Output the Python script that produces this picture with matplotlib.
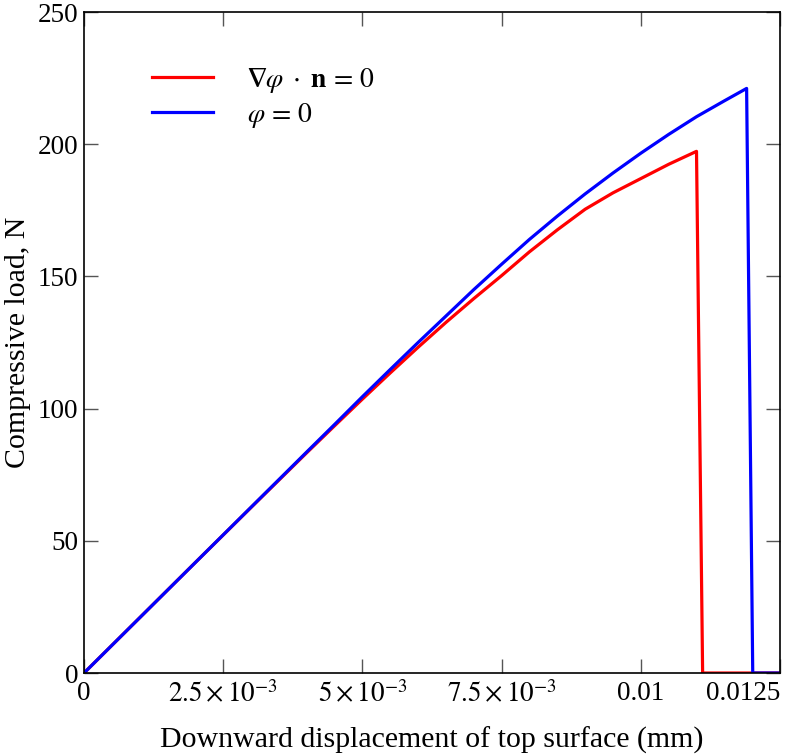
import numpy as np
import matplotlib
matplotlib.use("Agg")
import matplotlib.pyplot as plt

# Load vs displacement
disp_red = [0, 0.001, 0.002, 0.003, 0.004, 0.0045, 0.005, 0.0055, 0.006, 0.0065, 0.007,
            0.0075, 0.008, 0.0085, 0.009, 0.0095, 0.010, 0.0105, 0.0110, 0.01111, 0.0125]
load_red = [0, 20.9, 41.8, 62.6, 83.3, 93.5, 103.6, 113.5, 123.2, 132.6, 141.6,
            150.3, 159.3, 167.6, 175.4, 181.6, 187.0, 192.4, 197.3, 0, 0]

disp_blue = [0, 0.001, 0.002, 0.003, 0.004, 0.0045, 0.005, 0.0055, 0.006, 0.0065, 0.007,
             0.0075, 0.008, 0.0085, 0.009, 0.0095, 0.010, 0.0105, 0.011, 0.0115, 0.0119, 0.01201, 0.0125]
load_blue = [0, 20.9, 41.8, 62.7, 83.6, 94.0, 104.5, 114.8, 125.0, 135.0, 145.0,
             154.6, 164.0, 172.8, 181.2, 189.1, 196.6, 203.7, 210.4, 216.4, 221.1, 0, 0]

x_ticks = [0, 0.0025, 0.005, 0.0075, 0.01, 0.0125]
x_tick_labels = ["0", r"$2.5\times10^{-3}$", r"$5\times10^{-3}$", r"$7.5\times10^{-3}$", "0.01", "0.0125"]
y_ticks = [0, 50, 100, 150, 200, 250]

plt.rcParams["font.family"] = ["Liberation Serif", "DejaVu Serif"]
plt.rcParams["mathtext.fontset"] = "stix"
plt.rcParams["font.size"] = 19.5

fig = plt.figure(figsize=(7.94, 7.55), dpi=100)
ax = fig.add_axes([0.1058, 0.1086, 0.8766, 0.8755])

ax.plot(disp_red, load_red, color="#ff0000", lw=2.3,
        label=r"$\mathbf{\nabla}\varphi\;\cdot\;\mathbf{n}\,=\,0$")
ax.plot(disp_blue, load_blue, color="#0000ff", lw=2.3, label=r"$\varphi\,=\,0$")

ax.set_xlim(0, 0.0125)
ax.set_ylim(0, 250)
ax.set_xticks(x_ticks)
ax.set_xticklabels(x_tick_labels)
ax.set_yticks(y_ticks)
ax.get_xticklabels()[-1].set_ha("right")

ax.tick_params(direction="in", length=10, width=1, color="#555555",
               top=True, right=True)
ax.tick_params(axis="x", pad=6)
ax.tick_params(axis="y", pad=4)
for s in ax.spines.values():
    s.set_linewidth(1.2)

ax.set_xlabel("Downward displacement of top surface (mm)", fontsize=21.5, labelpad=13)
ax.set_ylabel("Compressive load, N", fontsize=21.5, labelpad=5)

ax.legend(loc="upper left", bbox_to_anchor=(0.062, 0.956), frameon=False, fontsize=20,
          handlelength=2.2, handletextpad=1.2, labelspacing=0.22)

fig.savefig("out.png", dpi=100)
